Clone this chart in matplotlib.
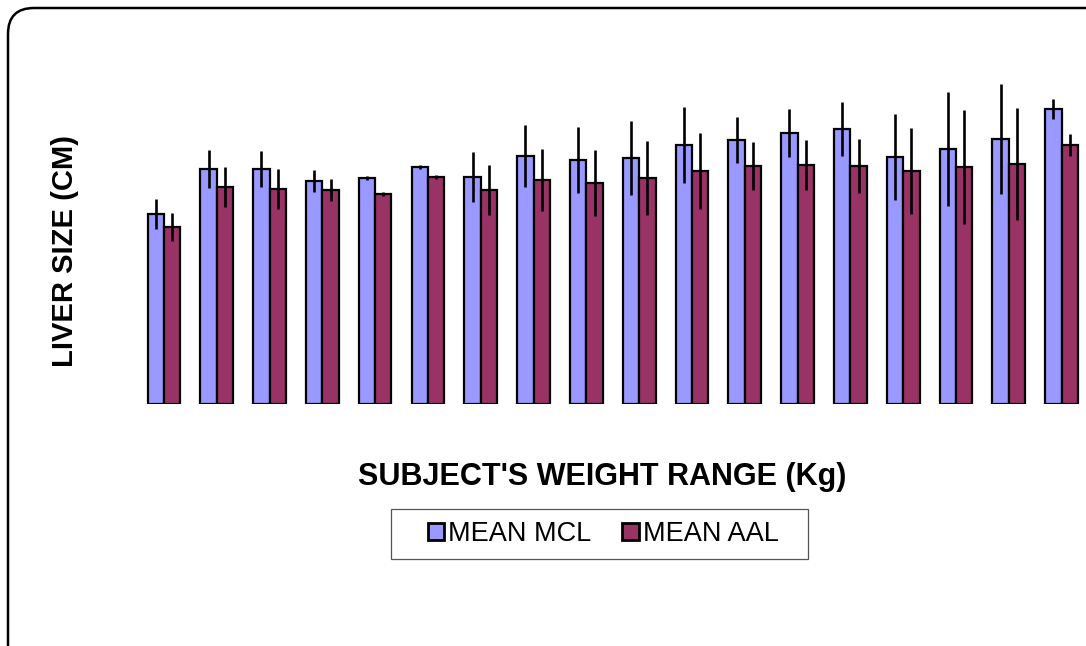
import matplotlib
matplotlib.use("Agg")
import matplotlib.pyplot as plt
import numpy as np
from matplotlib.patches import FancyBboxPatch, Rectangle

plt.rcParams['font.family'] = ['Liberation Sans', 'DejaVu Sans']

groups = [f"G{i}" for i in range(1, 19)]
mean_mcl = [9.5, 11.75, 11.75, 11.15, 11.3, 11.85, 11.35, 12.4, 12.2, 12.3,
            12.95, 13.2, 13.55, 13.75, 12.35, 12.75, 13.25, 14.75]
err_mcl = [0.75, 0.95, 0.9, 0.55, 0.12, 0.1, 1.25, 1.55, 1.65, 1.85,
           1.9, 1.15, 1.2, 1.35, 2.15, 2.85, 2.75, 0.5]
mean_aal = [8.85, 10.85, 10.75, 10.7, 10.5, 11.35, 10.7, 11.2, 11.05, 11.3,
            11.65, 11.9, 11.95, 11.9, 11.65, 11.85, 12.0, 12.95]
err_aal = [0.72, 1.0, 1.0, 0.55, 0.1, 0.12, 1.25, 1.55, 1.65, 1.85,
           1.9, 1.2, 1.25, 1.35, 2.15, 2.85, 2.8, 0.55]

W, H = 1086, 646
fig = plt.figure(figsize=(W / 100, H / 100), dpi=100)
fig.patch.set_facecolor('white')

left_px, right_px = 137.5, 1088.0
bottom_px, top_px = 404, 64
ax = fig.add_axes([left_px / W, (H - bottom_px) / H,
                   (right_px - left_px) / W, (bottom_px - top_px) / H])
ax.set_facecolor('none')

x = np.arange(len(groups))
bw = 0.31
ax.bar(x - bw / 2, mean_mcl, bw, color='#9999FF', edgecolor='black', linewidth=1.6,
       label='MEAN MCL', zorder=2)
ax.bar(x + bw / 2, mean_aal, bw, color='#993366', edgecolor='black', linewidth=1.6,
       label='MEAN AAL', zorder=2)
ax.errorbar(x - bw / 2, mean_mcl, yerr=err_mcl, fmt='none', ecolor='black',
            elinewidth=1.9, capsize=0, zorder=3)
ax.errorbar(x + bw / 2, mean_aal, yerr=err_aal, fmt='none', ecolor='black',
            elinewidth=1.9, capsize=0, zorder=3)

ax.set_xlim(-0.5, len(groups) - 0.5)
ax.set_ylim(0, 17)
ax.set_xticks([])
ax.set_yticks([])
for s in ax.spines.values():
    s.set_visible(False)

fig.text(602 / W, (H - 477) / H, "SUBJECT'S WEIGHT RANGE (Kg)", ha='center', va='center',
         fontsize=22, fontweight='bold')
fig.text(65 / W, (H - 251) / H, "LIVER SIZE (CM)", ha='center', va='center',
         rotation=90, fontsize=21, fontweight='bold')

leg = fig.legend(loc='center', bbox_to_anchor=(603 / W, (H - 534) / H), ncol=2,
                 fontsize=19.5, frameon=False, handlelength=0.6, handleheight=0.6,
                 handletextpad=0.15, columnspacing=1.15, borderpad=0.3)
for h in leg.legend_handles:
    h.set_linewidth(2.0)

fig.add_artist(Rectangle((391, H - 559), 417, 50, transform=None, facecolor='none',
                         edgecolor='#555555', linewidth=0.9))

border = FancyBboxPatch((8, -60), 1200, H - 8 + 60, boxstyle="round,pad=0,rounding_size=26",
                        transform=None, facecolor='none', edgecolor='black', linewidth=1.8)
fig.add_artist(border)

fig.savefig('out.png', dpi=100)
